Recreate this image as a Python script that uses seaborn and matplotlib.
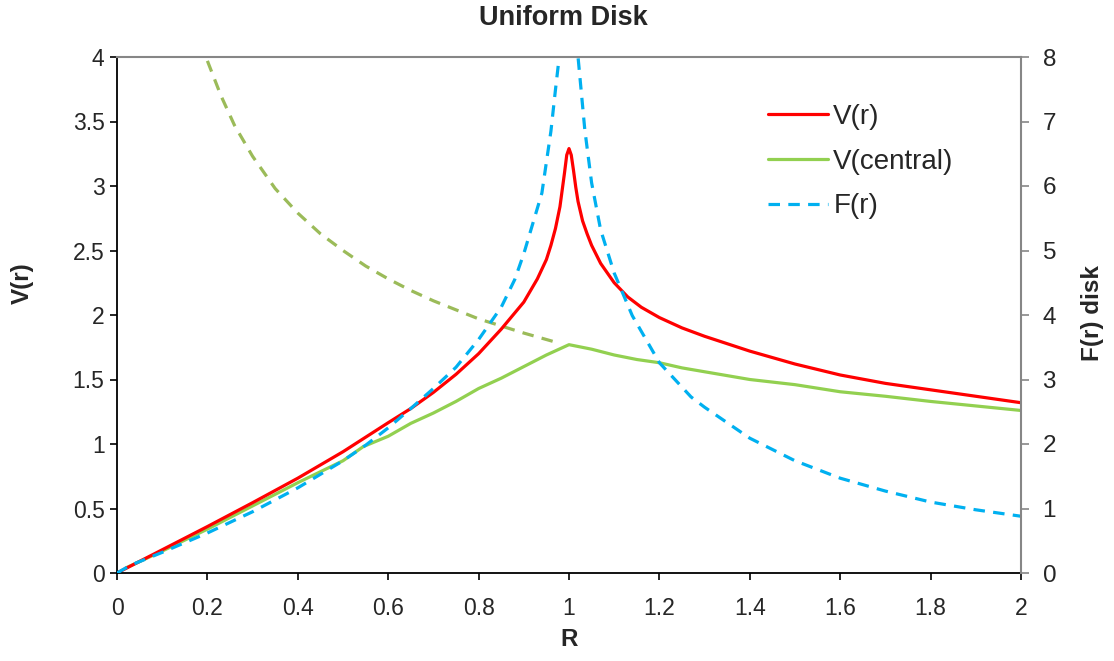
import numpy as np
import pandas as pd
import matplotlib
matplotlib.use("Agg")
import matplotlib.pyplot as plt
from matplotlib.ticker import FormatStrFormatter, MultipleLocator
import seaborn as sns

# Rotation curve of a uniform disk
r_v = [0, 0.05, 0.1, 0.2, 0.3, 0.4, 0.5, 0.6, 0.65, 0.7, 0.75, 0.8, 0.85, 0.9,
       0.93, 0.95, 0.96, 0.97, 0.98, 0.985, 0.99, 0.995, 1.0, 1.005, 1.01,
       1.015, 1.02, 1.03, 1.04, 1.05, 1.07, 1.1, 1.13, 1.16, 1.2, 1.25, 1.3,
       1.4, 1.5, 1.6, 1.7, 1.8, 1.9, 2.0]
v_r = [0, 0.09, 0.18, 0.36, 0.545, 0.735, 0.94, 1.165, 1.275, 1.40, 1.54, 1.70,
       1.89, 2.10, 2.28, 2.43, 2.54, 2.67, 2.84, 2.97, 3.10, 3.24, 3.29, 3.24,
       3.12, 2.99, 2.88, 2.73, 2.63, 2.54, 2.40, 2.25, 2.14, 2.06, 1.98, 1.90,
       1.835, 1.72, 1.62, 1.535, 1.47, 1.42, 1.37, 1.32]

# Velocity for the same mass placed at the centre
r_c = [0.02, 0.1, 0.2, 0.3, 0.4, 0.5, 0.545, 0.6, 0.65, 0.7, 0.75, 0.8, 0.85,
       0.9, 0.95, 1.0, 1.05, 1.1, 1.15, 1.2, 1.25, 1.3, 1.35, 1.4, 1.5, 1.6,
       1.7, 1.8, 1.9, 2.0]
v_c = [0.04, 0.17, 0.34, 0.52, 0.70, 0.87, 0.98, 1.06, 1.16, 1.24, 1.33, 1.43,
       1.51, 1.60, 1.69, 1.77, 1.735, 1.69, 1.655, 1.63, 1.59, 1.56, 1.53, 1.50,
       1.46, 1.405, 1.37, 1.33, 1.295, 1.26]

# Central-mass curve continued inside the disk
r_k = [0.2, 0.23, 0.26, 0.3, 0.35, 0.4, 0.45, 0.5, 0.55, 0.6, 0.65, 0.7, 0.75,
       0.8, 0.85, 0.9, 0.95, 0.98]
v_k = [3.97, 3.70, 3.47, 3.23, 2.98, 2.79, 2.63, 2.50, 2.38, 2.28, 2.19, 2.11,
       2.04, 1.97, 1.915, 1.86, 1.81, 1.78]

# Radial force of the disk (right axis)
r_f = [0, 0.03, 0.1, 0.2, 0.3, 0.4, 0.5, 0.55, 0.6, 0.65, 0.7, 0.75, 0.8, 0.85,
       0.88, 0.9, 0.92, 0.94, 0.96, 0.97, 0.98, 0.99, 1.0, 1.01, 1.02, 1.035,
       1.05, 1.07, 1.1, 1.14, 1.2, 1.27, 1.3, 1.4, 1.5, 1.6, 1.7, 1.8, 1.9, 2.0]
f_r = [0, 0.12, 0.32, 0.62, 0.95, 1.32, 1.74, 1.98, 2.25, 2.55, 2.86, 3.19, 3.62,
       4.12, 4.55, 4.95, 5.42, 5.89, 6.85, 7.49, 8.1, 10.5, 13.0, 10.5, 8.0,
       6.87, 6.05, 5.32, 4.65, 3.99, 3.26, 2.73, 2.57, 2.09, 1.74, 1.47, 1.27,
       1.10, 0.98, 0.88]

sns.set_style("white")
plt.rcParams["font.family"] = ["Liberation Sans", "DejaVu Sans"]

RED = "#FF0000"
GREEN = "#92D050"
OLIVE = "#9BBB59"
BLUE = "#00B0F0"
LW = 2.3

fig = plt.figure(figsize=(11.14, 6.61), dpi=100)
ax = fig.add_axes([117 / 1114, 1 - 573 / 661, (1021 - 117) / 1114, (573 - 57) / 661])
ax2 = ax.twinx()

df_v = pd.DataFrame({"R": r_v, "V": v_r})
df_c = pd.DataFrame({"R": r_c, "V": v_c})
df_k = pd.DataFrame({"R": r_k, "V": v_k})
df_f = pd.DataFrame({"R": r_f, "F": f_r})

sns.lineplot(data=df_k, x="R", y="V", ax=ax, color=OLIVE, lw=LW,
             linestyle=(0, (3.6, 2.6)), estimator=None, sort=False, legend=False)
sns.lineplot(data=df_c, x="R", y="V", ax=ax, color=GREEN, lw=LW,
             estimator=None, sort=False, label="V(central)")
sns.lineplot(data=df_v, x="R", y="V", ax=ax, color=RED, lw=LW,
             estimator=None, sort=False, label="V(r)")
sns.lineplot(data=df_f, x="R", y="F", ax=ax2, color=BLUE, lw=LW,
             linestyle=(0, (3.6, 2.6)), estimator=None, sort=False, label="F(r)")

ax.set_xlim(0, 2)
ax.set_ylim(0, 4)
ax2.set_ylim(0, 8)
ax.xaxis.set_major_locator(MultipleLocator(0.2))
ax.yaxis.set_major_locator(MultipleLocator(0.5))
ax2.yaxis.set_major_locator(MultipleLocator(1))
ax.xaxis.set_major_formatter(FormatStrFormatter("%g"))
ax.yaxis.set_major_formatter(FormatStrFormatter("%g"))
ax2.yaxis.set_major_formatter(FormatStrFormatter("%g"))

ax.set_xlabel("")
ax.set_ylabel("")
ax2.set_ylabel("")

TICK_FS = 16.5
ax.tick_params(axis="both", direction="out", length=5, width=1.2, color="black",
               labelsize=TICK_FS, pad=4, bottom=True, left=True)
ax.tick_params(axis="x", pad=12.5)
ax2.tick_params(axis="y", direction="out", length=5.5, width=1.2, color="#868686",
                labelsize=17.5, pad=10, right=True)

for name, sp in ax.spines.items():
    sp.set_visible(name in ("left", "bottom"))
    sp.set_color("black")
    sp.set_linewidth(1.3)
for name, sp in ax2.spines.items():
    sp.set_visible(name in ("top", "right"))
    sp.set_color("#868686")
    sp.set_linewidth(1.5)
ax2.spines["left"].set_visible(False)
ax2.spines["bottom"].set_visible(False)

# Legend in the upper right of the plot area
h1, l1 = ax.get_legend_handles_labels()
h2, l2 = ax2.get_legend_handles_labels()
order = {"V(r)": 0, "V(central)": 1, "F(r)": 2}
pairs = sorted(zip(h1 + h2, l1 + l2), key=lambda p: order[p[1]])
if ax.get_legend() is not None:
    ax.get_legend().remove()
if ax2.get_legend() is not None:
    ax2.get_legend().remove()
ax2.legend([p[0] for p in pairs], [p[1] for p in pairs],
           loc="upper left", bbox_to_anchor=(768 / 1114, 1 - 104 / 661),
           bbox_transform=fig.transFigure, frameon=False, fontsize=20,
           handlelength=2.15, handletextpad=0.2, labelspacing=0.67, borderpad=0,
           borderaxespad=0)

fig.text(563 / 1114, 1 - 18 / 661, "Uniform Disk", ha="center", va="center",
         fontsize=19.5, fontweight="bold")
fig.text(569 / 1114, 1 - 640 / 661, "R", ha="center", va="center",
         fontsize=17.5, fontweight="bold")
fig.text(22 / 1114, 1 - 283 / 661, "V(r)", ha="center", va="center",
         rotation=90, fontsize=17.5, fontweight="bold")
fig.text(1093 / 1114, 1 - 313 / 661, "F(r) disk", ha="center", va="center",
         rotation=90, fontsize=17.5, fontweight="bold")

fig.savefig("out.png", dpi=100, facecolor="white")
